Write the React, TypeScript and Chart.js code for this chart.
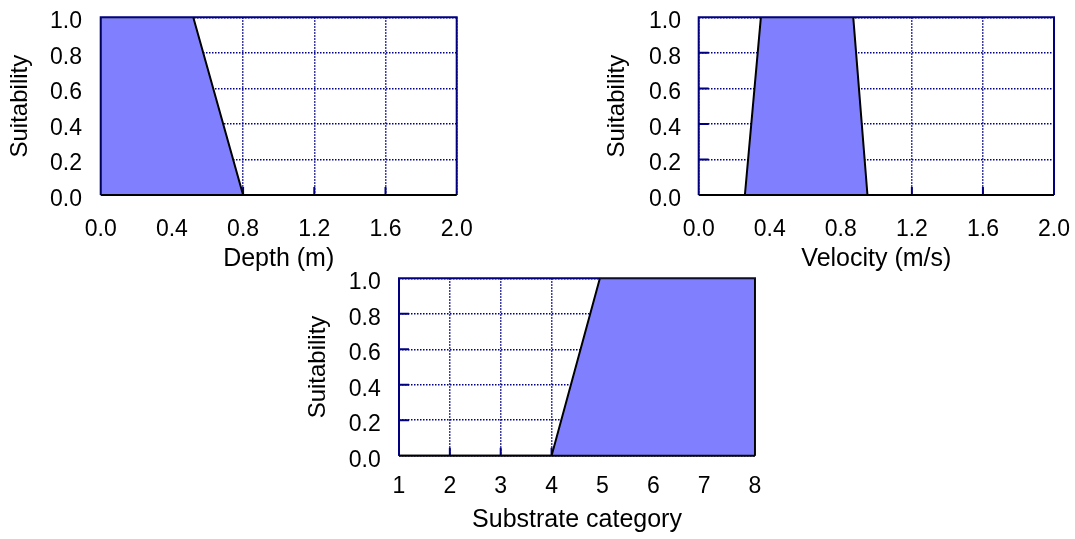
import React, { useEffect, useRef } from 'react';
import { Chart, registerables } from 'chart.js';

Chart.register(...registerables);

// ---------- data ----------
const depthX = [0, 0, 0.52, 0.8, 2.0];
const depthY = [0, 1, 1, 0, 0];

const velocityX = [0, 0.26, 0.35, 0.87, 0.95, 2.0];
const velocityY = [0, 0, 1, 1, 0, 0];

const substrateX = [1, 4, 4.95, 8, 8];
const substrateY = [0, 0, 1, 1, 0];

const metreTicks = [0, 0.4, 0.8, 1.2, 1.6, 2.0];
const substrateTicks = [1, 2, 3, 4, 5, 6, 7, 8];
const suitabilityTicks = [0, 0.2, 0.4, 0.6, 0.8, 1.0];

const depthTitle = 'Depth (m)';
const velocityTitle = 'Velocity (m/s)';
const substrateTitle = 'Substrate category';
const yTitle = 'Suitability';

// ---------- styling ----------
const NAVY = '#000080';
const GRID = '#00008B';
const FILL = '#8080FF';
const FONT = "'Liberation Sans', Arial, Helvetica, sans-serif";

const framePlugin = {
  id: 'frame',
  beforeDatasetsDraw(chart: any) {
    const { ctx, chartArea } = chart;
    const { left, right, top, bottom } = chartArea;
    const xs = chart.scales.x;
    const ys = chart.scales.y;
    ctx.save();
    ctx.strokeStyle = NAVY;
    ctx.lineWidth = 2;
    ctx.beginPath();
    ys.ticks.forEach((t: any) => {
      if (t.value > ys.min && t.value < ys.max) {
        const p = ys.getPixelForValue(t.value);
        ctx.moveTo(left, p);
        ctx.lineTo(left + 10, p);
      }
    });
    xs.ticks.forEach((t: any) => {
      if (t.value > xs.min && t.value < xs.max) {
        const p = xs.getPixelForValue(t.value);
        ctx.moveTo(p, bottom);
        ctx.lineTo(p, bottom - 8);
      }
    });
    ctx.stroke();
    ctx.beginPath();
    ctx.moveTo(left, bottom);
    ctx.lineTo(left, top);
    ctx.lineTo(right, top);
    ctx.lineTo(right, bottom);
    ctx.stroke();
    ctx.restore();
  },
  afterDatasetsDraw(chart: any) {
    const { ctx, chartArea } = chart;
    const { left, right, bottom } = chartArea;
    ctx.save();
    ctx.strokeStyle = '#000';
    ctx.lineWidth = 2;
    ctx.beginPath();
    ctx.moveTo(left, bottom);
    ctx.lineTo(right, bottom);
    ctx.stroke();
    ctx.restore();
  },
};

type PanelProps = {
  xs: number[];
  ys: number[];
  xTicks: number[];
  xDecimals: number;
  xTitle: string;
  left: number;
  top: number;
  width: number;
  height: number;
  yAxisW: number;
  xAxisH: number;
  padTop: number;
  padRight: number;
  yTitlePad: number;
  xTitlePad: number;
  yTickPad: number;
  xTickPad: number;
};

function zeroPad(axis: any) {
  axis.paddingTop = 0;
  axis.paddingBottom = 0;
  axis.paddingLeft = 0;
  axis.paddingRight = 0;
}

function Panel(p: PanelProps) {
  const ref = useRef<HTMLCanvasElement | null>(null);
  useEffect(() => {
    if (!ref.current) return;
    const points = p.xs.map((x, i) => ({ x, y: p.ys[i] }));
    const chart = new Chart(ref.current, {
      type: 'line',
      data: {
        datasets: [
          {
            data: points,
            fill: 'origin',
            backgroundColor: FILL,
            borderColor: '#000',
            borderWidth: 2,
            pointRadius: 0,
            tension: 0,
          },
        ],
      },
      options: {
        animation: false,
        responsive: false,
        events: [],
        layout: { padding: { left: 0, top: p.padTop, right: p.padRight, bottom: 0 } },
        plugins: { legend: { display: false }, tooltip: { enabled: false } },
        scales: {
          x: {
            type: 'linear',
            min: p.xTicks[0],
            max: p.xTicks[p.xTicks.length - 1],
            afterBuildTicks: (axis: any) => {
              axis.ticks = p.xTicks.map((v) => ({ value: v }));
            },
            afterFit: (axis: any) => {
              axis.height = p.xAxisH;
              zeroPad(axis);
            },
            grid: { color: GRID, lineWidth: 1.5, drawTicks: false },
            border: { display: false, dash: [1.5, 1.5] },
            ticks: {
              padding: p.xTickPad,
              color: '#000',
              font: { size: 23, family: FONT },
              maxRotation: 0,
              autoSkip: false,
              callback: (v: any) => Number(v).toFixed(p.xDecimals),
            },
            title: {
              display: true,
              text: p.xTitle,
              color: '#000',
              font: { size: 25, family: FONT },
              padding: { top: 0, bottom: p.xTitlePad },
            },
          },
          y: {
            type: 'linear',
            min: 0,
            max: 1,
            afterBuildTicks: (axis: any) => {
              axis.ticks = suitabilityTicks.map((v) => ({ value: v }));
            },
            afterFit: (axis: any) => {
              axis.width = p.yAxisW;
              zeroPad(axis);
            },
            grid: { color: GRID, lineWidth: 1.5, drawTicks: false },
            border: { display: false, dash: [1.5, 1.5] },
            ticks: {
              padding: p.yTickPad,
              labelOffset: 4.5,
              color: '#000',
              font: { size: 23, family: FONT },
              autoSkip: false,
              callback: (v: any) => Number(v).toFixed(1),
            },
            title: {
              display: true,
              text: yTitle,
              color: '#000',
              font: { size: 24, family: FONT },
              padding: { top: p.yTitlePad, bottom: 0 },
            },
          },
        },
      },
      plugins: [framePlugin],
    } as any);
    return () => chart.destroy();
  }, []);
  return (
    <div
      style={{
        position: 'absolute',
        left: p.left,
        top: p.top,
        width: p.width,
        height: p.height,
      }}
    >
      <canvas ref={ref} width={p.width} height={p.height} style={{ display: 'block' }} />
    </div>
  );
}

export default function App() {
  return (
    <div style={{ position: 'absolute', left: 0, top: 0, width: 1075, height: 539, background: '#fff' }}>
      <Panel
        xs={depthX}
        ys={depthY}
        xTicks={metreTicks}
        xDecimals={1}
        xTitle={depthTitle}
        left={0}
        top={0}
        width={490}
        height={280}
        yAxisW={100.7}
        xAxisH={85}
        padTop={17.3}
        padRight={33.3}
        yTitlePad={5.6}
        xTitlePad={5.4}
        yTickPad={18.7}
        xTickPad={20.5}
      />
      <Panel
        xs={velocityX}
        ys={velocityY}
        xTicks={metreTicks}
        xDecimals={1}
        xTitle={velocityTitle}
        left={580}
        top={0}
        width={495}
        height={280}
        yAxisW={118.7}
        xAxisH={85}
        padTop={17.3}
        padRight={21}
        yTitlePad={22.6}
        xTitlePad={5.4}
        yTickPad={17.7}
        xTickPad={20.5}
      />
      <Panel
        xs={substrateX}
        ys={substrateY}
        xTicks={substrateTicks}
        xDecimals={0}
        xTitle={substrateTitle}
        left={290}
        top={260}
        width={490}
        height={279}
        yAxisW={109}
        xAxisH={83.3}
        padTop={18.3}
        padRight={25}
        yTitlePad={13.9}
        xTitlePad={4}
        yTickPad={18.3}
        xTickPad={17.6}
      />
    </div>
  );
}
